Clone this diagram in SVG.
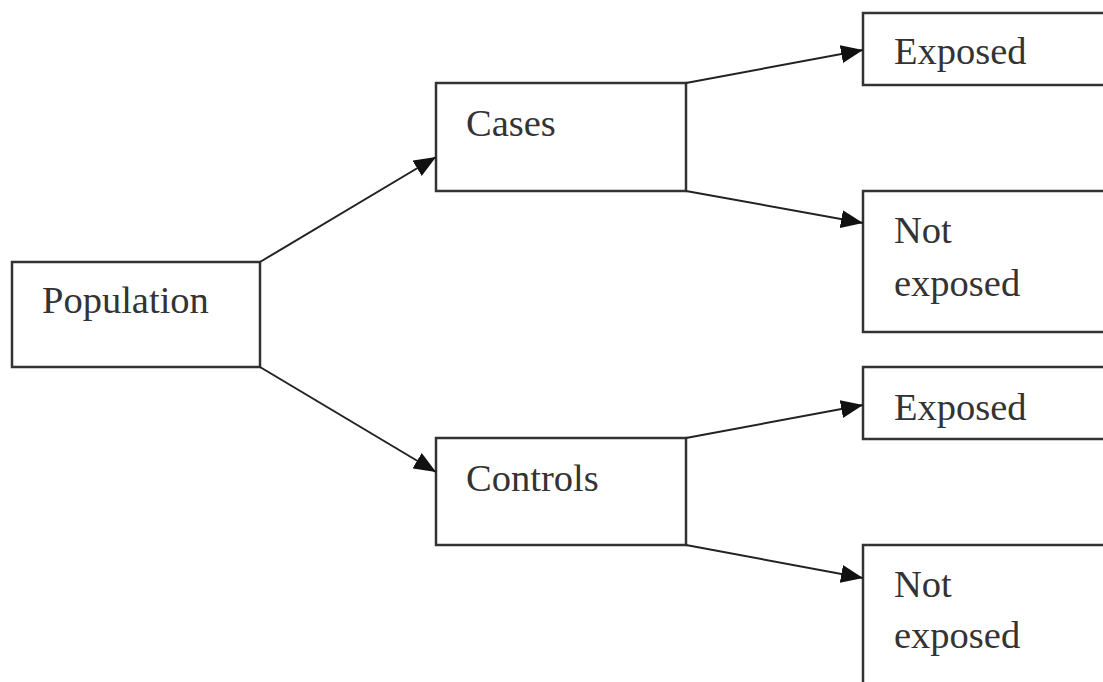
<svg xmlns="http://www.w3.org/2000/svg" width="1103" height="682" viewBox="0 0 1103 682">
<defs>
<style>
.box{fill:#fff;stroke:#333;stroke-width:2.5}
.lbl{font-family:"Liberation Serif","Times New Roman",serif;font-size:38.5px;fill:#333}
.con{stroke:#222;stroke-width:2;fill:none;marker-end:url(#ah)}
</style>
<marker id="ah" markerUnits="userSpaceOnUse" markerWidth="24" markerHeight="18" refX="22" refY="9" orient="auto">
<path d="M0,0 L22,9 L0,18 Z" fill="#111"/>
</marker>
</defs>
<rect width="1103" height="682" fill="#fff"/>
<g id="population"><rect class="box" x="12" y="262" width="248" height="105"/><text class="lbl" x="42" y="313">Population</text></g>
<g id="cases"><rect class="box" x="436" y="83" width="250" height="108"/><text class="lbl" x="466" y="136">Cases</text></g>
<g id="controls"><rect class="box" x="436" y="438" width="250" height="107"/><text class="lbl" x="466" y="491">Controls</text></g>
<g id="cases-exposed"><rect class="box" x="863" y="13" width="260" height="72"/><text class="lbl" x="894" y="64">Exposed</text></g>
<g id="cases-not-exposed"><rect class="box" x="863" y="191" width="260" height="141"/><text class="lbl" x="894" y="243">Not</text><text class="lbl" x="894" y="296">exposed</text></g>
<g id="controls-exposed"><rect class="box" x="863" y="367" width="260" height="72"/><text class="lbl" x="894" y="420">Exposed</text></g>
<g id="controls-not-exposed"><rect class="box" x="863" y="545" width="260" height="160"/><text class="lbl" x="894" y="597">Not</text><text class="lbl" x="894" y="648">exposed</text></g>
<g id="connectors">
<line class="con" x1="260" y1="262" x2="436" y2="157"/>
<line class="con" x1="260" y1="367" x2="436" y2="472"/>
<line class="con" x1="686" y1="83" x2="863" y2="50"/>
<line class="con" x1="686" y1="191" x2="863" y2="223"/>
<line class="con" x1="686" y1="438" x2="863" y2="405"/>
<line class="con" x1="686" y1="545" x2="863" y2="578"/>
</g>
</svg>
